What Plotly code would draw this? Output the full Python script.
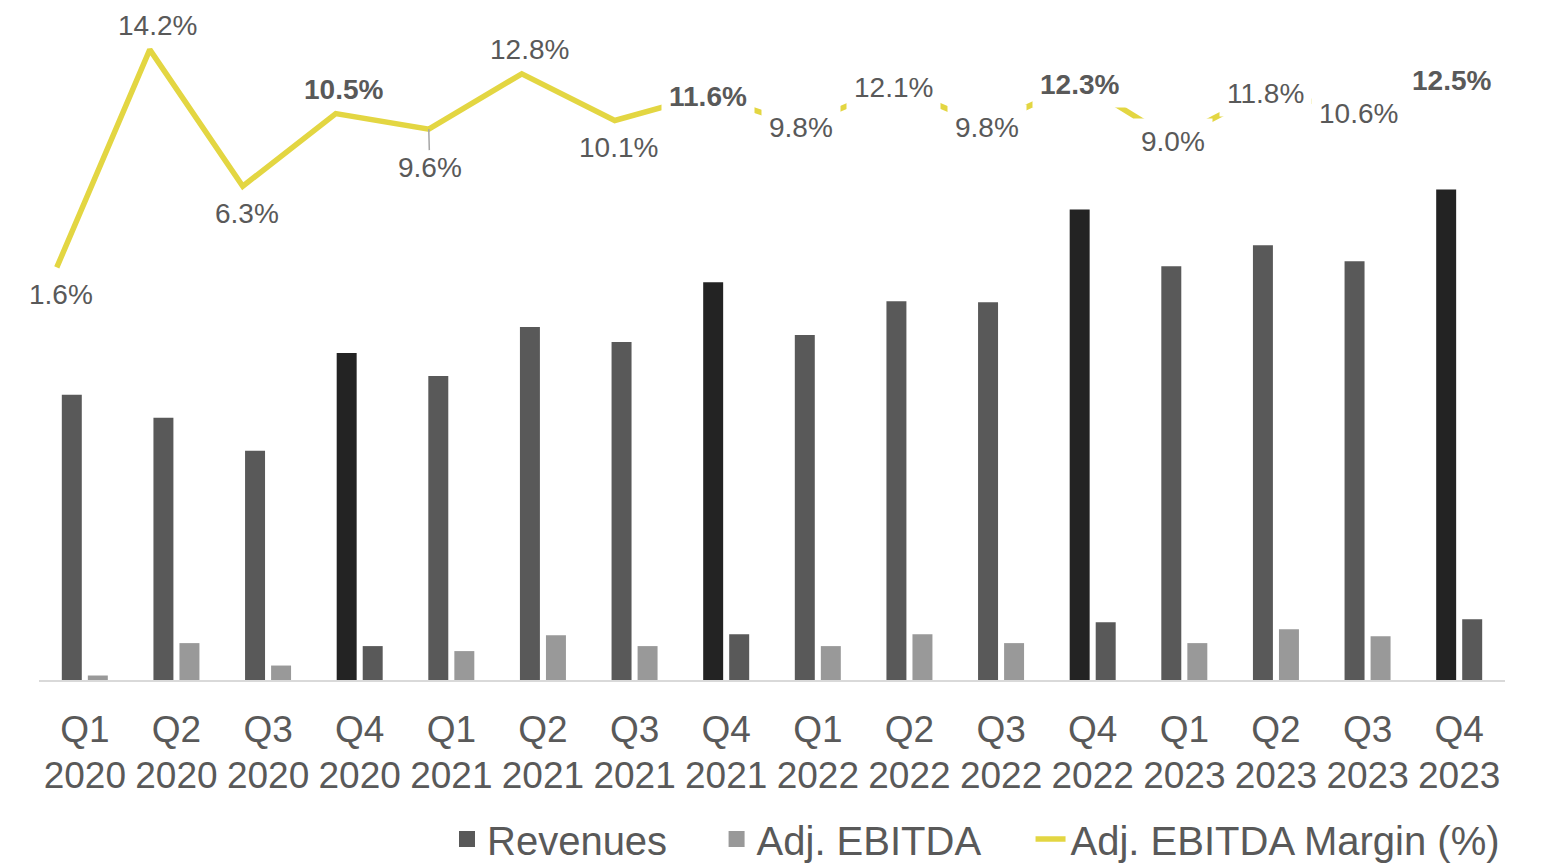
import plotly.graph_objects as go

# ---- data ----
quarters = ["Q1", "Q2", "Q3", "Q4"] * 4
years = ["2020"] * 4 + ["2021"] * 4 + ["2022"] * 4 + ["2023"] * 4
revenues = [286, 263, 230, 328, 305, 354, 339, 399, 346, 380, 379, 472, 415, 436, 420, 492]
adj_ebitda = [4.5, 37, 14.5, 34, 29, 45, 34, 46, 34, 46, 37, 58, 37, 51, 44, 61]
margin = [1.6, 14.2, 6.3, 10.5, 9.6, 12.8, 10.1, 11.6, 9.8, 12.1, 9.8, 12.3, 9.0, 11.8, 10.6, 12.5]
label_place = ["below", "above", "below", "above", "leader", "above", "below"] + ["center"] * 9

# ---- styles ----
REV = "#595959"
REV_Q4 = "#232323"
EB = "#999999"
EB_Q4 = "#595959"
YEL = "#E3D642"
TXT = "#595959"
AXIS_FONT = "Liberation Sans, Arial, sans-serif"
LABEL_FONT = "Liberation Sans, Arial, sans-serif"
NB = "\u00a0" * 4  # spacing after legend entries

idx = list(range(len(quarters)))
rev_colors = [REV_Q4 if q == "Q4" else REV for q in quarters]
eb_colors = [EB_Q4 if q == "Q4" else EB for q in quarters]

fig = go.Figure()
fig.add_trace(go.Bar(
    x=idx, y=revenues, name="Revenues", offset=-0.251, width=0.218, showlegend=False,
    marker=dict(color=rev_colors, line=dict(width=0)), xaxis="x", yaxis="y",
))
fig.add_trace(go.Bar(
    x=idx, y=adj_ebitda, name="Adj. EBITDA", offset=0.033, width=0.218, showlegend=False,
    marker=dict(color=eb_colors, line=dict(width=0)), xaxis="x", yaxis="y",
))
# legend entries (square swatches)
fig.add_trace(go.Scatter(x=[None], y=[None], mode="markers", name="Revenues" + NB,
                         marker=dict(symbol="square", size=22, color=REV), hoverinfo="skip"))
fig.add_trace(go.Scatter(x=[None], y=[None], mode="markers", name="Adj. EBITDA" + NB,
                         marker=dict(symbol="square", size=22, color=EB), hoverinfo="skip"))
fig.add_trace(go.Scatter(
    x=idx, y=margin, name="Adj. EBITDA Margin (%)", mode="lines",
    line=dict(color=YEL, width=5.5), xaxis="x2", yaxis="y2",
))
# carrier for the year tick row
fig.add_trace(go.Scatter(x=idx, y=[None] * len(idx), xaxis="x3", yaxis="y",
                         showlegend=False, hoverinfo="skip", mode="markers"))

annotations = []
for i, (m, q, p) in enumerate(zip(margin, quarters, label_place)):
    txt = f"{m:.1f}%"
    if q == "Q4":
        txt = f"<b>{txt}</b>"
    a = dict(x=i, y=m, xref="x2", yref="y2", text=txt,
             font=dict(family=LABEL_FONT, size=28, color=TXT))
    if p == "above":
        a.update(showarrow=False, xshift=8, yshift=24)
    elif p == "below":
        a.update(showarrow=False, xshift=4, yshift=-27)
    elif p == "leader":
        a.update(showarrow=True, ax=1, ay=38, arrowhead=0, arrowwidth=1.5,
                 arrowcolor="#A6A6A6", standoff=0)
    else:
        a.update(showarrow=False, bgcolor="white", borderpad=7, yshift=-2)
    annotations.append(a)

fig.update_layout(
    width=1536, height=866,
    margin=dict(l=31, r=39, t=2, b=192),
    paper_bgcolor="white", plot_bgcolor="white",
    barmode="overlay",
    showlegend=True,
    legend=dict(orientation="h", x=1, xanchor="right", y=-0.2857, yanchor="bottom",
                font=dict(family=AXIS_FONT, size=40, color=TXT),
                traceorder="normal", itemwidth=30),
    xaxis=dict(range=[-0.5, 15.5], tickmode="array", tickvals=idx, ticktext=quarters,
               showgrid=False, zeroline=False, showline=True, linecolor="#D9D9D9",
               linewidth=2, ticks="", ticklabelstandoff=16,
               tickfont=dict(family=AXIS_FONT, size=37, color=TXT)),
    xaxis3=dict(overlaying="x", anchor="y", side="bottom", range=[-0.5, 15.5],
                tickmode="array", tickvals=idx, ticktext=years,
                showgrid=False, zeroline=False, showline=False, ticks="",
                ticklabelstandoff=70,
                tickfont=dict(family=AXIS_FONT, size=37, color=TXT)),
    xaxis2=dict(overlaying="x", anchor="y2", range=[-0.191, 15.572], visible=False),
    yaxis=dict(range=[0, 672], visible=False, showgrid=False, zeroline=False),
    yaxis2=dict(overlaying="y", range=[-22.26, 16.49], visible=False),
    annotations=annotations,
)

fig.write_html("out.html")
